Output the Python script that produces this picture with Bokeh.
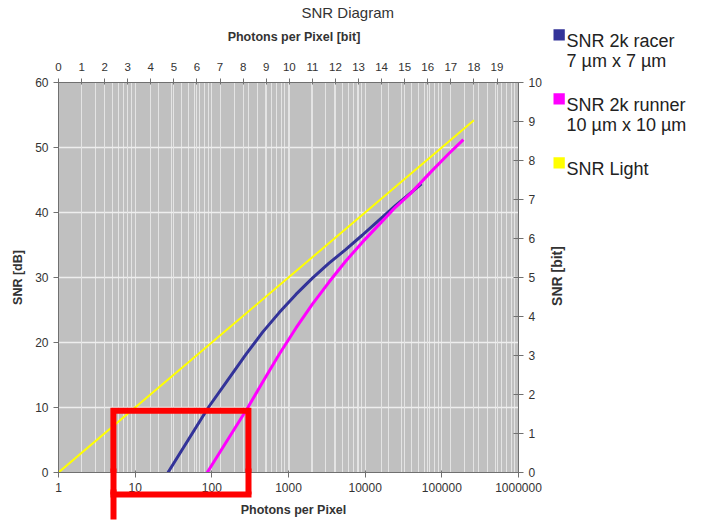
import math
from bokeh.plotting import figure
from bokeh.layouts import row
from bokeh.models import (LogAxis, LinearAxis, Range1d, FixedTicker, Grid, PolyAnnotation)
from bokeh.core.properties import value
from bokeh.embed import file_html
from bokeh.resources import INLINE

# ---------------- data ----------------
racer_photons = [26.8, 90, 170, 280, 460, 757, 1250, 2050, 3380, 5560, 9140, 15060, 25000, 40000, 54300]
racer_snr = [0, 10, 14.6, 18.2, 21.6, 24.6, 27.4, 29.9, 32.2, 34.3, 36.5, 38.8, 41.1, 43.1, 44.4]

runner_photons = [87, 295, 459, 757, 1247, 2050, 3380, 5560, 9140, 15060, 24800, 38900, 70000, 122000, 191000]
runner_snr = [0, 10, 13.9, 18.2, 22.2, 25.9, 29.3, 32.5, 35.4, 38.1, 40.8, 42.9, 46.1, 49.0, 51.2]

light_photons = [1, 262144]
light_snr = [0, 54.2]

photon_ticks = [1, 10, 100, 1000, 10000, 100000, 1000000]
photon_tick_labels = ["1", "10", "100", "1000", "10000", "100000", "1000000"]
bit_ticks = list(range(0, 20))
bit_tick_labels = [str(b) for b in bit_ticks]
snr_db_ticks = [0, 10, 20, 30, 40, 50, 60]
snr_bit_ticks = list(range(0, 11))

highlight_photons = [5.2, 300]
highlight_snr_top = 9.5

series_names = ["SNR 2k racer", "SNR 2k runner", "SNR Light"]
series_notes = ["7 µm x 7 µm", "10 µm x 10 µm", ""]
series_colors = ["#333399", "#FF00FF", "#FFFF00"]

title_text = "SNR Diagram"
x_title_bottom = "Photons per Pixel"
x_title_top = "Photons per Pixel [bit]"
y_title_left = "SNR [dB]"
y_title_right = "SNR [bit]"

# ---------------- layout ----------------
W, H = 701, 522
FL, FT, FW, FH = 58, 82, 462, 390
FB = FT + FH
FR = FL + FW
RB = 24                 # right border of the chart (right axis)
PW = FR + RB            # chart width
LW = W - PW             # side panel width (legend)
CUT = 687               # picture content ends here


def dx(px):
    return 10 ** ((px - FL) / FW * 6.0)


FONT = "Liberation Sans"
TXT = "#333333"
AX = "#707070"

p = figure(width=PW, height=H, x_axis_type="log",
           x_range=Range1d(1, 1e6), y_range=Range1d(0, 60),
           output_backend="svg", toolbar_location=None, title_location=None,
           min_border_left=FL, min_border_right=RB,
           min_border_top=FT, min_border_bottom=H - FB)
p.background_fill_color = "#C0C0C0"
p.border_fill_color = "white"
p.outline_line_color = None

# grids
minor_pos = [m * 10 ** d for d in range(6) for m in range(2, 10)]
p.xgrid.ticker = FixedTicker(ticks=photon_ticks, minor_ticks=minor_pos)
p.xgrid.grid_line_color = "#E4E4E4"
p.xgrid.minor_grid_line_color = "#E4E4E4"
p.ygrid.ticker = FixedTicker(ticks=snr_db_ticks)
p.ygrid.grid_line_color = "#EEEEEE"
p.ygrid.grid_line_width = 1.3
p.add_layout(Grid(dimension=0, ticker=FixedTicker(ticks=[2 ** b for b in bit_ticks]),
                  grid_line_color="#E4E4E4"))


def style_axis(ax, size="12px"):
    ax.axis_line_color = AX
    ax.major_tick_line_color = AX
    ax.minor_tick_line_color = None
    ax.minor_tick_out = 0
    ax.minor_tick_in = 0
    ax.major_label_text_font = FONT
    ax.major_label_text_font_size = size
    ax.major_label_text_color = TXT


def text_axis(pos, text, size, bold, standoff):
    ax = LogAxis(ticker=FixedTicker(ticks=[pos], minor_ticks=[]))
    ax.major_label_overrides = {pos: text}
    ax.axis_line_color = None
    ax.major_tick_line_color = None
    ax.minor_tick_line_color = None
    ax.major_tick_in = 0
    ax.major_tick_out = 0
    ax.minor_tick_in = 0
    ax.minor_tick_out = 0
    ax.major_label_standoff = standoff
    ax.major_label_text_font = FONT
    ax.major_label_text_font_size = size
    ax.major_label_text_font_style = "bold" if bold else "normal"
    ax.major_label_text_color = TXT
    return ax


def red_axis(ticks, tick_in, bounds=None):
    kw = {} if bounds is None else {"bounds": bounds}
    ax = LogAxis(ticker=FixedTicker(ticks=ticks, minor_ticks=[]), **kw)
    ax.axis_line_color = "#FF0000" if bounds is not None else None
    ax.axis_line_width = 6
    ax.axis_line_cap = "square"
    ax.major_tick_line_color = "#FF0000"
    ax.major_tick_line_width = 6
    ax.major_tick_in = tick_in
    ax.major_tick_out = 0
    ax.minor_tick_line_color = None
    ax.minor_tick_in = 0
    ax.minor_tick_out = 0
    ax.major_label_standoff = 0
    ax.major_label_text_font_size = "1px"
    ax.major_label_text_color = None
    return ax


# ---- bottom: photons ----
xa = p.xaxis[0]
xa.ticker = FixedTicker(ticks=photon_ticks, minor_ticks=[])
xa.major_label_overrides = {t: l for t, l in zip(photon_ticks, photon_tick_labels)}
style_axis(xa)
xa.major_tick_out = 5
xa.major_tick_in = 2
xa.major_label_standoff = 5

L, R = highlight_photons
p.add_layout(red_axis([L, R], 26, bounds=(L, R)), "below")
p.add_layout(text_axis(dx(294), x_title_bottom, "12.5px", True, 8), "below")
p.add_layout(red_axis([L], 30), "below")

# ---- left: dB ----
ya = p.yaxis[0]
ya.ticker = FixedTicker(ticks=snr_db_ticks)
style_axis(ya)
ya.major_tick_out = 5
ya.major_tick_in = 0
ya.major_label_standoff = 5
ya.axis_label = y_title_left
ya.axis_label_standoff = 7
ya.axis_label_text_font = FONT
ya.axis_label_text_font_size = "12.5px"
ya.axis_label_text_font_style = "bold"
ya.axis_label_text_color = TXT

# ---- top: bits ----
top = LogAxis(ticker=FixedTicker(ticks=[2 ** b for b in bit_ticks], minor_ticks=[]))
top.major_label_overrides = {2 ** b: l for b, l in zip(bit_ticks, bit_tick_labels)}
style_axis(top, "11.5px")
top.major_tick_out = 4
top.major_tick_in = 2
top.major_label_standoff = 8
p.add_layout(top, "above")
p.add_layout(text_axis(dx(294.5), x_title_top, "12.5px", True, 16), "above")
p.add_layout(text_axis(dx(348.5), title_text, "15px", False, 6), "above")

# ---- right: bits ----
p.extra_y_ranges = {"bits": Range1d(0, 10)}
right = LinearAxis(y_range_name="bits", ticker=FixedTicker(ticks=snr_bit_ticks))
style_axis(right)
right.major_tick_out = 5
right.major_tick_in = 5
right.major_label_standoff = 5
p.add_layout(right, "right")

# ---- series ----
p.line(racer_photons, racer_snr, line_color=series_colors[0], line_width=3)
p.line(runner_photons, runner_snr, line_color=series_colors[1], line_width=3)
p.line(light_photons, light_snr, line_color=series_colors[2], line_width=2)

# red highlight inside the frame
p.add_layout(PolyAnnotation(xs=[L, L, R, R], ys=[-5, highlight_snr_top, highlight_snr_top, -5],
                            fill_alpha=0, line_color="#FF0000", line_alpha=1, line_width=6,
                            line_join="miter"))

# ---------------- side panel: right axis title + legend ----------------
lf = figure(width=LW, height=H, x_range=Range1d(PW, CUT), y_range=Range1d(0, H),
            output_backend="svg", toolbar_location=None, title_location=None,
            x_axis_location=None, y_axis_location=None,
            min_border_left=0, min_border_top=0, min_border_bottom=0,
            min_border_right=W - CUT)
for fig in (p, lf):
    if "frame_align" in fig.properties():
        fig.frame_align = False
lf.background_fill_color = "white"
lf.border_fill_color = "white"
lf.outline_line_color = None
lf.xgrid.visible = False
lf.ygrid.visible = False


def top_y(py):
    return H - py


lf.text(x=[556], y=[top_y(275.5)], text=[y_title_right], angle=math.pi / 2,
        text_align="center", text_baseline="middle", text_font=value(FONT),
        text_font_size="14px", text_font_style="bold", text_color=TXT)

row_base = [40.0, 104.0, 168.0]      # baseline of each legend entry (px from top)
note_gap = 20.5
sw_left, sw_size, txt_x = 553, 11.3, 566
lf.quad(left=[sw_left] * 3, right=[sw_left + sw_size] * 3,
        top=[top_y(b - sw_size) for b in row_base], bottom=[top_y(b) for b in row_base],
        fill_color=series_colors, line_color=None)
lf.text(x=[txt_x] * 3, y=[top_y(b) for b in row_base], text=series_names,
        text_baseline="alphabetic", text_font=value(FONT), text_font_size="18px",
        text_color="#222222")
notes = [(n, b) for n, b in zip(series_notes, row_base) if n]
lf.text(x=[txt_x] * len(notes), y=[top_y(b + note_gap) for _, b in notes],
        text=[n for n, _ in notes],
        text_baseline="alphabetic", text_font=value(FONT), text_font_size="18px",
        text_color="#222222")

layout = row(p, lf)
open("out.html", "w").write(file_html(layout, INLINE))
